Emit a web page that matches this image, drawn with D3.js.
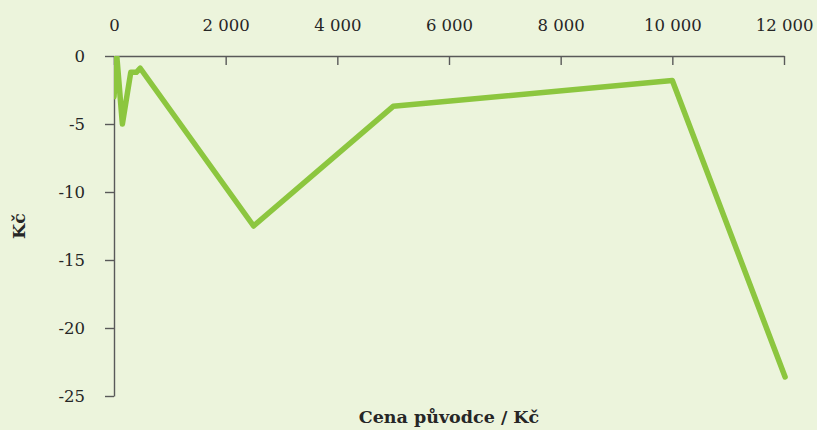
<!DOCTYPE html>
<html>
<head>
<meta charset="utf-8">
<script src="https://cdn.jsdelivr.net/npm/d3@7"></script>
<style>
  body { margin: 0; background: #ecf4dc; }
  svg { display: block; }
  .tick text { font-family: "DejaVu Serif", serif; font-size: 16.5px; fill: #262626; }
  .axis-title { font-family: "DejaVu Serif", serif; font-weight: bold; font-size: 17.5px; fill: #262626; }
</style>
</head>
<body>
<div id="chart"></div>
<script>
// cena původce (Kč) and rozdíl (Kč)
const prices = [0, 50, 150, 300, 400, 470, 2500, 5000, 10000, 12020];
const diffs = [-3, 0, -5, -1.2, -1.2, -0.9, -12.5, -3.7, -1.8, -23.6];
const xTicks = [0, 2000, 4000, 6000, 8000, 10000, 12000];
const yTicks = [0, -5, -10, -15, -20, -25];

drawChart();

function drawChart(){
  const width = 817;
  const height = 430;
  const left = 114, right = 784, top = 56, bottom = 396;
  const lineColor = "#8cc63f";
  const axisColor = "#595959";

  const cz = d3.formatLocale({decimal: ",", thousands: " ", grouping: [3], currency: ["", " Kč"], minus: "-"});
  const fmt = cz.format(",d");

  const svg = d3.select("#chart").append("svg")
                .attr("width", width)
                .attr("height", height);

  const x = d3.scaleLinear().domain([0, 12000]).range([left, right]);
  const y = d3.scaleLinear().domain([0, -25]).range([top, bottom]);

  // plot area clip (left and top edge only, like the original)
  svg.append("clipPath").attr("id", "plot")
    .append("rect")
      .attr("x", left).attr("y", top)
      .attr("width", width - left).attr("height", height - top);

  const yAxis = svg.append("g")
      .attr("transform", `translate(${left},0)`)
      .call(d3.axisLeft(y).tickValues(yTicks).tickFormat(fmt).tickSize(9).tickPadding(20).tickSizeOuter(0));

  const xAxis = svg.append("g")
      .attr("transform", `translate(0,${top})`)
      .call(d3.axisTop(x).tickValues(xTicks).tickFormat(fmt).tickSize(-9).tickPadding(25).tickSizeOuter(0));

  [xAxis, yAxis].forEach(g => {
    g.selectAll(".domain").attr("stroke", axisColor).attr("stroke-width", 1.4);
    g.selectAll(".tick line").attr("stroke", axisColor).attr("stroke-width", 1.4);
  });
  xAxis.selectAll(".tick text").attr("dy", "0");
  yAxis.selectAll(".tick text").attr("dy", "0.36em");

  const line = d3.line()
      .x((d, i) => x(prices[i]))
      .y(d => y(d));

  svg.append("path")
      .datum(diffs)
      .attr("clip-path", "url(#plot)")
      .attr("d", line)
      .attr("fill", "none")
      .attr("stroke", lineColor)
      .attr("stroke-width", 5.5)
      .attr("stroke-linejoin", "round")
      .attr("stroke-linecap", "round");

  svg.append("text")
      .attr("class", "axis-title")
      .attr("x", (left + right) / 2)
      .attr("y", 423)
      .attr("text-anchor", "middle")
      .text("Cena původce / Kč");

  svg.append("text")
      .attr("class", "axis-title")
      .attr("transform", `translate(25,226) rotate(-90)`)
      .attr("text-anchor", "middle")
      .text("Kč");
}
</script>
</body>
</html>
